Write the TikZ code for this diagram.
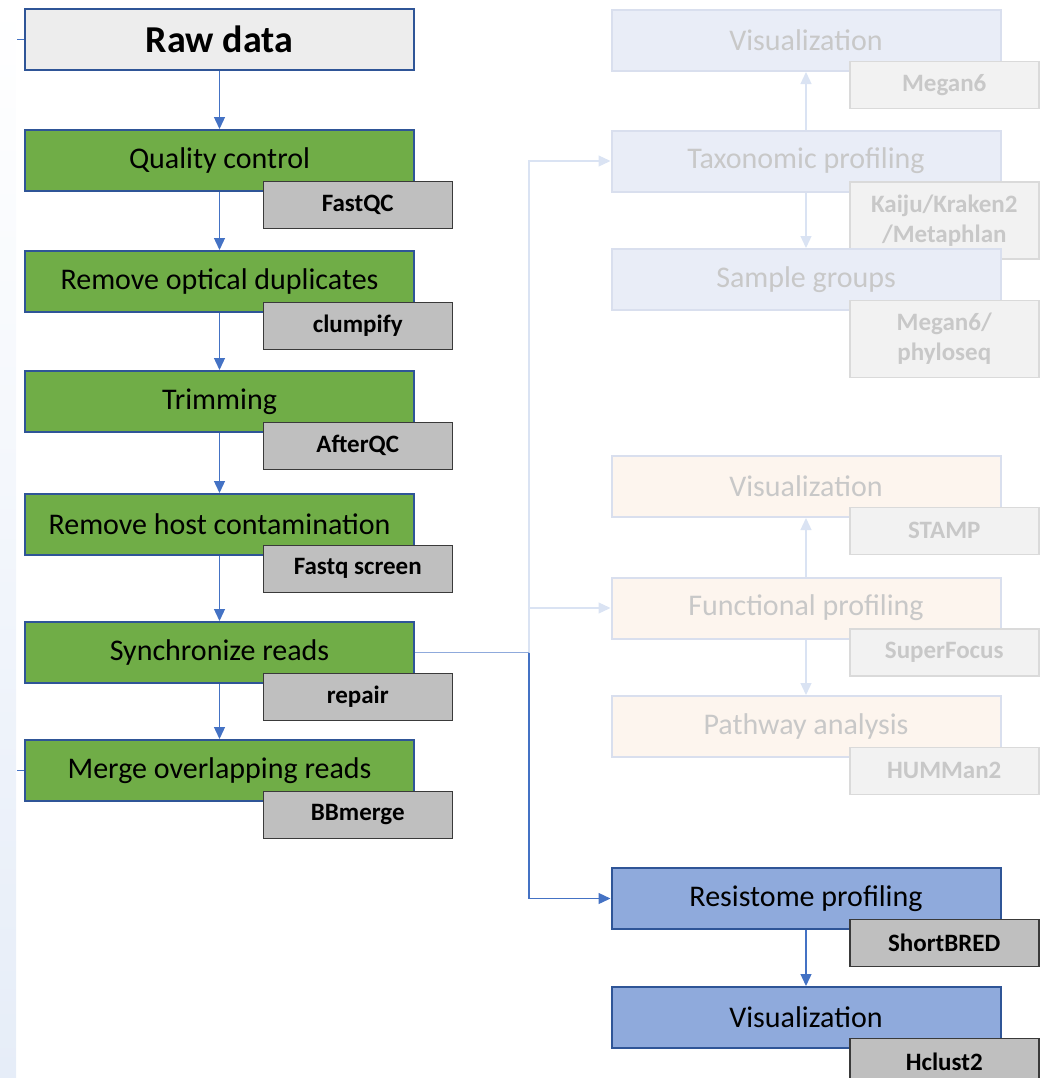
\documentclass[tikz,border=0pt]{standalone}
\usepackage{fontspec}
\setmainfont{Carlito}
\usetikzlibrary{arrows.meta,positioning}

\definecolor{stagegreen}{HTML}{70AD47}
\definecolor{stageline}{HTML}{2F5597}
\definecolor{rawgray}{HTML}{EDEDED}
\definecolor{toolgray}{HTML}{BFBFBF}
\definecolor{toolline}{HTML}{3A3A3A}
\definecolor{arrowblue}{HTML}{4472C4}
\definecolor{linkblue}{HTML}{8FAADC}
\definecolor{resblue}{HTML}{8FAADC}
\definecolor{taxfill}{HTML}{E9EDF7}
\definecolor{funcfill}{HTML}{FDF5EE}
\definecolor{fadeline}{HTML}{D9DFEE}
\definecolor{fadetext}{HTML}{C8C8C8}
\definecolor{fadetoolfill}{HTML}{F2F2F2}
\definecolor{fadetoolline}{HTML}{DADADA}
\definecolor{fadearrowblue}{HTML}{DAE3F3}
\definecolor{stripblue}{HTML}{E6EDF8}

\tikzset{
  stage/.style={draw=stageline, line width=2bp, fill=stagegreen, minimum width=389bp,
    minimum height=61bp, inner sep=0pt, font=\fontsize{30bp}{36bp}\selectfont},
  rawbox/.style={stage, fill=rawgray, font=\bfseries\fontsize{38bp}{44bp}\selectfont},
  resbox/.style={stage, fill=resblue},
  taxbox/.style={stage, fill=taxfill, draw=fadeline, text=fadetext},
  funcbox/.style={stage, fill=funcfill, draw=fadeline, text=fadetext},
  tool/.style={draw=toolline, line width=1.5bp, fill=toolgray, minimum width=189bp,
    minimum height=47bp, inner sep=0pt, align=center,
    font=\bfseries\fontsize{25bp}{30bp}\selectfont},
  fadetool/.style={tool, fill=fadetoolfill, draw=fadetoolline, text=fadetext},
  tall/.style={minimum height=77bp},
  toolof/.style={anchor=north east, at={([xshift=38bp,yshift=11.5bp]#1.south east)}},
  arrow/.style={draw=arrowblue, line width=1.3bp, -{Triangle[length=12bp,width=11bp]}},
  fadearrow/.style={arrow, draw=fadearrowblue},
  link/.style={draw=linkblue, line width=1.3bp}
}

\begin{document}
\begin{tikzpicture}[x=1bp, y=-1bp]
  % page and left strip
  \useasboundingbox (0,0) rectangle (1046,1078);
  \shade[top color=white, bottom color=stripblue] (0,0) rectangle (16,1078);

  % preprocessing column
  \node[rawbox] (raw) at (219.5,39) {Raw data};
  \node[stage] (qc) at (219.5,160.5) {Quality control};
  \node[tool, toolof=qc] (qctool) {FastQC};
  \node[stage] (dup) at (219.5,281.5) {Remove optical duplicates};
  \node[tool, toolof=dup] (duptool) {clumpify};
  \node[stage] (trim) at (219.5,401.5) {Trimming};
  \node[tool, toolof=trim] (trimtool) {AfterQC};
  \node[stage] (host) at (219.5,524.5) {Remove host contamination};
  \node[tool, toolof=host] (hosttool) {Fastq screen};
  \node[stage] (sync) at (219.5,652.5) {Synchronize reads};
  \node[tool, toolof=sync] (synctool) {repair};
  \node[stage] (merge) at (219.5,770.5) {Merge overlapping reads};
  \node[tool, toolof=merge] (mergetool) {BBmerge};

  % taxonomic branch
  \node[taxbox] (taxvis) at (806,40.5) {Visualization};
  \node[fadetool, toolof=taxvis] (taxvistool) {Megan6};
  \node[taxbox] (tax) at (806,161) {Taxonomic profiling};
  \node[fadetool, tall, toolof=tax] (taxtool) {Kaiju/Kraken2\\/Metaphlan};
  \node[taxbox] (groups) at (806,279.5) {Sample groups};
  \node[fadetool, tall, toolof=groups] (groupstool) {Megan6/\\phyloseq};

  % functional branch
  \node[funcbox] (funcvis) at (806,486.5) {Visualization};
  \node[fadetool, toolof=funcvis] (funcvistool) {STAMP};
  \node[funcbox] (func) at (806,608) {Functional profiling};
  \node[fadetool, toolof=func] (functool) {SuperFocus};
  \node[funcbox] (path) at (806,726.5) {Pathway analysis};
  \node[fadetool, toolof=path] (pathtool) {HUMMan2};

  % resistome branch
  \node[resbox] (res) at (806,898.5) {Resistome profiling};
  \node[tool, toolof=res] (restool) {ShortBRED};
  \node[resbox] (resvis) at (806,1017.5) {Visualization};
  \node[tool, toolof=resvis] (resvistool) {Hclust2};

  % pipeline arrows
  \foreach \a/\b in {raw/qc, qc/dup, dup/trim, trim/host, host/sync, sync/merge, res/resvis}
    \draw[arrow] (\a.south) -- (\b.north);
  \draw[fadearrow] (tax.north) -- (taxvis.south);
  \draw[fadearrow] (tax.south) -- (groups.north);
  \draw[fadearrow] (func.north) -- (funcvis.south);
  \draw[fadearrow] (func.south) -- (path.north);

  % branching from synchronized reads
  \coordinate (split) at ([xshift=114bp]sync.east);
  \draw[fadearrow] (split) |- (tax.west);
  \draw[fadearrow] (split |- func.west) -- (func.west);
  \draw[link] (sync.east) -- (split);
  \draw[arrow] (split) |- (res.west);

  % incoming lines at the left
  \coordinate (feedraw) at (17,39);
  \coordinate (feedmerge) at (17,770.5);
  \draw[link, draw=arrowblue, line width=1bp] (feedraw) -- (raw.west);
  \draw[link, draw=arrowblue, line width=1bp] (feedmerge) -- (merge.west);
\end{tikzpicture}
\end{document}
